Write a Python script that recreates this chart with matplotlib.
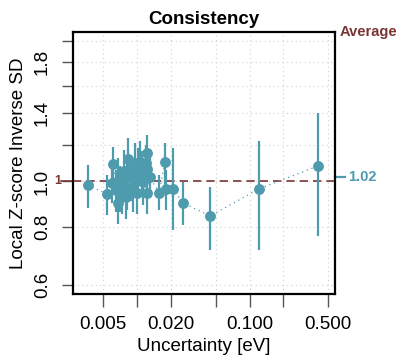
import matplotlib
matplotlib.use("Agg")
import matplotlib.pyplot as plt
import matplotlib.transforms as mtransforms
import numpy as np

plt.rcParams['font.family'] = ['Liberation Sans', 'DejaVu Sans']

# Data (uncertainty [eV], local Z-score inverse SD, lower CI, upper CI)
uncertainty = [0.00363, 0.00536, 0.00614, 0.00601, 0.0068, 0.00704, 0.00649, 0.00729,
               0.00807, 0.00834, 0.00834, 0.00956, 0.01023, 0.0106, 0.01097, 0.01215,
               0.01198, 0.0123, 0.013, 0.0123, 0.01564, 0.01767, 0.01804, 0.0207,
               0.0257, 0.0444, 0.121, 0.4075,
               0.00675, 0.00764, 0.00882, 0.00918, 0.01127, 0.00795, 0.00996]
lzisd = [0.982, 0.941, 1.088, 0.991, 0.998, 0.967, 0.958, 0.958,
         0.967, 1.115, 1.058, 1.093, 1.058, 1.102, 1.041, 1.148,
         1.093, 1.061, 1.021, 0.946, 0.946, 1.099, 0.962, 0.963,
         0.900, 0.843, 0.964, 1.080,
         0.899, 1.052, 1.017, 0.958, 0.997, 0.926, 0.945]
lower = [0.877, 0.847, 0.998, 0.90, 0.89, 0.86, 0.86, 0.85,
         0.87, 1.00, 0.95, 0.98, 0.94, 0.99, 0.93, 1.03,
         0.98, 0.95, 0.92, 0.85, 0.868, 0.973, 0.868, 0.787,
         0.806, 0.713, 0.713, 0.765,
         0.81, 0.94, 0.91, 0.86, 0.89, 0.83, 0.85]
upper = [1.084, 1.032, 1.186, 1.09, 1.12, 1.08, 1.06, 1.07,
         1.09, 1.24, 1.17, 1.21, 1.18, 1.22, 1.16, 1.26,
         1.20, 1.17, 1.13, 1.05, 1.032, 1.208, 1.058, 1.179,
         0.998, 0.974, 1.22, 1.401,
         1.00, 1.17, 1.13, 1.07, 1.11, 1.03, 1.05]

x_ticks = [0.005, 0.01, 0.02, 0.05, 0.1, 0.2, 0.5]
x_ticklabels = ['0.005', '', '0.020', '', '0.100', '', '0.500']
y_ticks = [0.6, 0.8, 1.0, 1.2, 1.4, 1.6, 1.8, 2.0]
y_ticklabels = ['0.6', '0.8', '1.0', '', '1.4', '', '1.8', '']
reference_value = 1.0
average_value = 1.02

teal = '#4E9BAE'
darkred = '#7A3535'

fig = plt.figure(figsize=(3.97, 3.62), dpi=100)
ax = fig.add_axes([0.183, 0.1887, 0.662, 0.7229])
ax.set_xscale('log')
ax.set_yscale('log')
ax.set_xlim(0.00267, 0.58)
ax.set_ylim(0.575, 2.09)

# grid
for xt in x_ticks:
    ax.axvline(xt, color='#cfcfcf', lw=0.8, ls=(0, (1, 3)), zorder=0)
for yt in y_ticks:
    ax.axhline(yt, color='#cfcfcf', lw=0.8, ls=(0, (1, 3)), zorder=0)

# reference line
ax.axhline(reference_value, color=darkred, lw=1.2, ls=(0, (5, 3)), zorder=1)

u = np.array(uncertainty)
v = np.array(lzisd)
lo = np.array(lower)
hi = np.array(upper)
order = np.argsort(u)

ax.plot(u[order], v[order], ls=(0, (1, 3)), color=teal, lw=0.9, zorder=2)
ax.errorbar(u, v, yerr=[v - lo, hi - v], fmt='o', color=teal, ms=6.8,
            elinewidth=1.6, capsize=0, zorder=3)

ax.set_xticks(x_ticks)
ax.set_xticklabels(x_ticklabels)
ax.set_yticks(y_ticks)
ax.set_yticklabels(y_ticklabels, rotation=90, va='center')
ax.minorticks_off()
ax.tick_params(axis='x', length=9, width=1, color='#555555', labelsize=13.5, pad=7)
ax.tick_params(axis='y', length=8, width=1, color='#555555', labelsize=13.5, pad=7.5)

for s in ax.spines.values():
    s.set_linewidth(1.6)

ax.set_xlabel('Uncertainty [eV]', fontsize=13.5, labelpad=4)
ax.set_ylabel('Local Z-score Inverse SD', fontsize=13.5, labelpad=5)
ax.set_title('Consistency', fontsize=13.5, fontweight='bold', pad=6)

# left "1" marker
trans = mtransforms.blended_transform_factory(ax.transAxes, ax.transData)
ax.plot([-0.045, 0.0], [reference_value, reference_value], color=darkred, lw=1.2,
        transform=trans, clip_on=False)
ax.text(-0.058, reference_value, '1', color=darkred, fontsize=9, fontweight='bold',
        ha='center', va='center', transform=trans)

# right average marker
ax.plot([1.0, 1.035], [average_value, average_value], color=teal, lw=1.6,
        transform=trans, clip_on=False)
ax.text(1.05, average_value, '1.02', color=teal, fontsize=10.5, fontweight='bold',
        ha='left', va='center', transform=trans)
ax.text(1.015, 1.0, 'Average', color=darkred, fontsize=10.5, fontweight='bold',
        ha='left', va='center', transform=ax.transAxes)

fig.savefig('out.png', dpi=100)
